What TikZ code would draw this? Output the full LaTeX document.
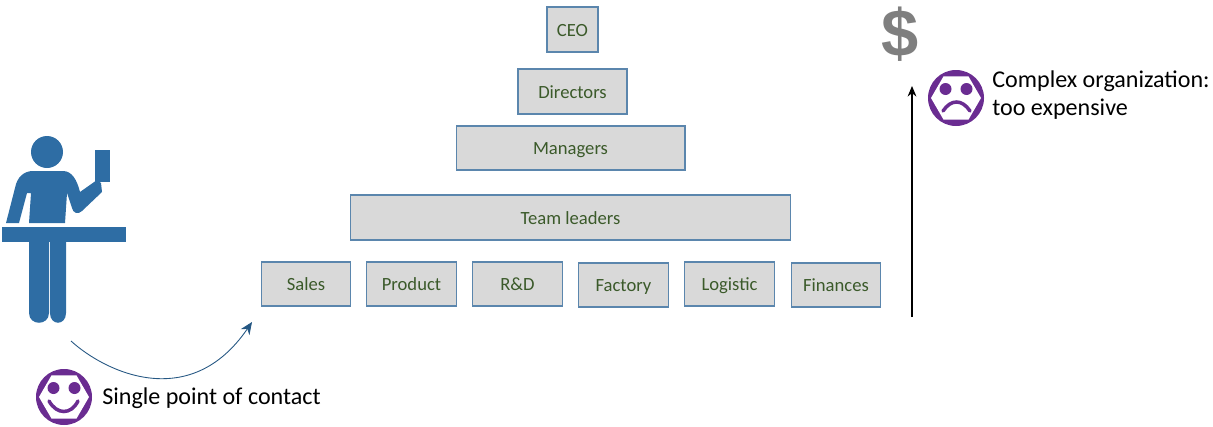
\documentclass[tikz,border=0pt]{standalone}
\usepackage{fontspec}
\setmainfont{Carlito}
\newfontfamily\dollarfont{Liberation Sans}
\usetikzlibrary{arrows.meta}
\definecolor{boxfill}{HTML}{D9D9D9}
\definecolor{boxline}{HTML}{5B86AD}
\definecolor{boxtext}{HTML}{3B5A2A}
\definecolor{person}{HTML}{2E6DA4}
\definecolor{facepurple}{HTML}{6A2C91}
\definecolor{dollargray}{HTML}{7F7F7F}
\tikzset{
  levelbox/.style={draw=boxline,fill=boxfill,text=boxtext,line width=0.6pt,font=\fontsize{10.6}{12}\selectfont,anchor=center,inner sep=0pt,text height=9.1pt,text depth=1.2pt},
  remark/.style={anchor=west,inner sep=0pt,align=left,font=\fontsize{13.7}{15.6}\selectfont},
  facering/.pic={
    \fill[facepurple] (0,0) circle (28);
    \fill[white] (25,0) -- (12.5,-21.6) -- (-12.5,-21.6) -- (-25,0) -- (-12.5,21.6) -- (12.5,21.6) -- cycle;
    \fill[facepurple] (-10.5,-9) circle (6) (10.5,-9) circle (6);
  }
}
\begin{document}
\begin{tikzpicture}[x=0.02cm,y=-0.02cm]
\useasboundingbox (0,0) rectangle (1213,426);
% pyramid
\node[levelbox,minimum width=1.02cm,minimum height=0.9cm] (ceo) at (572.5,29.5) {CEO};
\node[levelbox,minimum width=2.18cm,minimum height=0.9cm] (directors) at (572.5,91.5) {Directors};
\node[levelbox,minimum width=4.58cm,minimum height=0.88cm] (managers) at (570.5,148) {Managers};
\node[levelbox,minimum width=8.82cm,minimum height=0.9cm] (leaders) at (570.5,217.5) {Team leaders};
\foreach \nm/\xx/\yy/\lab in {sales/306/284/Sales,product/411.5/284/Product,rd/517.5/284/R\&D,factory/623.5/285/Factory,logistic/729.5/284/Logistic,finances/836/285/Finances}{
  \node[levelbox,minimum width=1.79cm,minimum height=0.88cm] (\nm) at (\xx,\yy) {\lab};
}
% person
\fill[person] (47,152) circle (16);
\fill[person] (95,150) rectangle (110,182);
\fill[person] (6,223) -- (15,188) .. controls (17,177) and (24,171) .. (33,171) -- (63,171)
  .. controls (72,171) and (77,180) .. (80,192) -- (97,180) -- (101,183) -- (102,192) -- (82,211)
  .. controls (78,215) and (73,213) .. (72,208) -- (67,193) -- (65,223) -- (29,223) -- (31,193) -- (27,193) -- (19,223) -- cycle;
\fill[person] (2,227) rectangle (126,242);
\fill[person] (29,242) -- (49,242) -- (49,313) .. controls (49,326) and (29,326) .. (29,313) -- cycle;
\fill[person] (50,242) -- (66,242) -- (66,313) .. controls (66,326) and (50,326) .. (50,313) -- cycle;
% contact
\coordinate (start) at (71,341);
\coordinate (stop) at (252,322);
\draw[person!80!black,line width=0.5pt,-{Stealth[length=7pt,width=6pt]}] (start) .. controls (105,372) and (190,413) .. (stop);
\pic at (64,397) {facering};
\draw[facepurple,line width=2pt,line cap=round] (49,401) .. controls (57,415) and (71,415) .. (78,401);
\node[remark] (contact) at (102,398) {Single point of contact};
% cost
\coordinate (costlow) at (912,317);
\coordinate (costhigh) at (912,86);
\draw[line width=0.6pt,-{Stealth[length=6pt,width=5pt]}] (costlow) -- (costhigh);
\node[text=dollargray,inner sep=0pt,font=\dollarfont\bfseries\fontsize{38}{38}\selectfont] (dollar) at (900,34) {\$};
\pic at (956,98) {facering};
\draw[facepurple,line width=2pt,line cap=round] (943,111) .. controls (951,99) and (962,99) .. (970,111);
\node[remark] (complex) at (992,95) {Complex organization:\\too expensive};
\end{tikzpicture}
\end{document}
